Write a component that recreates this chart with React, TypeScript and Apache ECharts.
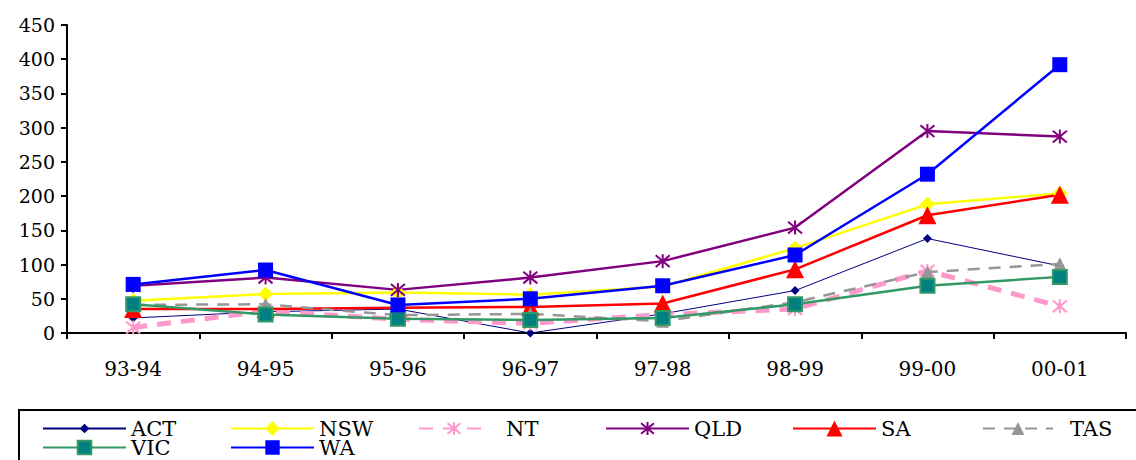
import React, { useEffect, useRef } from "react";
import * as echarts from "echarts";

const categories = ["93-94", "94-95", "95-96", "96-97", "97-98", "98-99", "99-00", "00-01"];

const act = [22, 31, 35, 0, 28, 62, 138, 98];
const nsw = [47, 57, 59, 56, 68, 124, 188, 204];
const nt = [8, 32, 20, 14, 27, 35, 91, 39];
const qld = [69, 81, 63, 81, 105, 154, 295, 287];
const sa = [35, 35, 37, 38, 43, 93, 172, 202];
const tas = [41, 42, 26, 28, 17, 45, 89, 101];
const vic = [42, 27, 21, 19, 22, 42, 69, 82];
const wa = [71, 92, 41, 50, 69, 114, 232, 392];

const yTicks = { min: 0, max: 450, interval: 50 };

const FONT = "DejaVu Serif";
const ASTERISK = "path://M0 0L10 10M10 0L0 10M5 -1L5 11";

type Spec = {
  name: string;
  data: number[];
  color: string;
  width: number;
  dash?: number[];
  symbol: string;
  size: number;
  fill?: string;
  border?: string;
  borderWidth?: number;
  legendIcon: number;
};

const seriesSpecs: Spec[] = [
  { name: "ACT", data: act, color: "#000080", width: 1, symbol: "diamond", size: 9, legendIcon: 12 },
  { name: "NSW", data: nsw, color: "#FFFF00", width: 2.5, symbol: "diamond", size: 15, legendIcon: 18 },
  { name: "NT", data: nt, color: "#FF99CC", width: 5, dash: [14, 10], symbol: ASTERISK, size: 14, border: "#FF99CC", borderWidth: 2, legendIcon: 16 },
  { name: "QLD", data: qld, color: "#800080", width: 2.5, symbol: ASTERISK, size: 14, border: "#800080", borderWidth: 2, legendIcon: 16 },
  { name: "SA", data: sa, color: "#FF0000", width: 2.5, symbol: "triangle", size: 18, legendIcon: 20 },
  { name: "TAS", data: tas, color: "#969696", width: 2.5, dash: [12, 9], symbol: "triangle", size: 13, legendIcon: 16 },
  { name: "VIC", data: vic, color: "#339966", width: 2.5, symbol: "rect", size: 14, fill: "#008080", border: "#339966", borderWidth: 2, legendIcon: 17 },
  { name: "WA", data: wa, color: "#0000FF", width: 2.5, symbol: "rect", size: 15, legendIcon: 18 },
];

// legend slots: [left, centre y]
const legendSlots: [number, number][] = [
  [42, 427],
  [230, 427],
  [418, 427],
  [605, 427],
  [792, 427],
  [982, 427],
  [42, 446],
  [230, 446],
];

const LEGEND_LINE = 18;

export default function App() {
  const ref = useRef<HTMLDivElement>(null);

  useEffect(() => {
    if (!ref.current) return;
    const chart = echarts.init(ref.current, undefined, { renderer: "svg" });

    const series = seriesSpecs.map((s) => ({
      name: s.name,
      type: "line",
      data: s.data,
      symbol: s.symbol,
      symbolSize: s.size,
      showSymbol: true,
      lineStyle: { color: s.color, width: s.width, type: s.dash ?? "solid" },
      itemStyle: {
        color: s.fill ?? s.color,
        borderColor: s.border ?? s.color,
        borderWidth: s.borderWidth ?? 0,
      },
      emphasis: { disabled: true },
    }));

    const legends = seriesSpecs.map((s, i) => {
      const gapped = s.name === "NT" || s.name === "TAS";
      return {
        data: [s.name],
        left: legendSlots[i][0],
        top: legendSlots[i][1] - LEGEND_LINE / 2,
        padding: 0,
        itemWidth: gapped ? 70 : 83,
        itemHeight: s.legendIcon,
        itemGap: 6,
        selectedMode: false,
        textStyle: {
          fontFamily: FONT,
          fontSize: 21,
          lineHeight: LEGEND_LINE,
          color: "#000",
          padding: [0, 0, 0, gapped ? 12 : 0],
        },
      };
    });

    chart.setOption({
      animation: false,
      backgroundColor: "#fff",
      textStyle: { fontFamily: FONT },
      grid: { left: 67, right: 10, top: 25, bottom: 127, containLabel: false },
      xAxis: {
        type: "category",
        data: categories,
        boundaryGap: true,
        axisLine: { lineStyle: { color: "#000", width: 2 } },
        axisTick: { show: true, length: 6, lineStyle: { color: "#000", width: 2 } },
        axisLabel: { fontFamily: FONT, fontSize: 20, color: "#000", margin: 26 },
        splitLine: { show: false },
      },
      yAxis: {
        type: "value",
        min: yTicks.min,
        max: yTicks.max,
        interval: yTicks.interval,
        axisLine: { show: true, lineStyle: { color: "#000", width: 2 } },
        axisTick: { show: true, length: 6, lineStyle: { color: "#000", width: 2 } },
        axisLabel: { fontFamily: FONT, fontSize: 19, color: "#000", margin: 12 },
        splitLine: { show: false },
      },
      legend: legends,
      graphic: [
        {
          type: "rect",
          shape: { x: 19, y: 410, width: 1200, height: 100 },
          style: { fill: "none", stroke: "#000", lineWidth: 2 },
          z: -1,
        },
      ],
      series,
    });

    return () => chart.dispose();
  }, []);

  return (
    <div
      ref={ref}
      style={{ position: "fixed", left: 0, top: 0, width: 1136, height: 460, background: "#fff" }}
    />
  );
}
